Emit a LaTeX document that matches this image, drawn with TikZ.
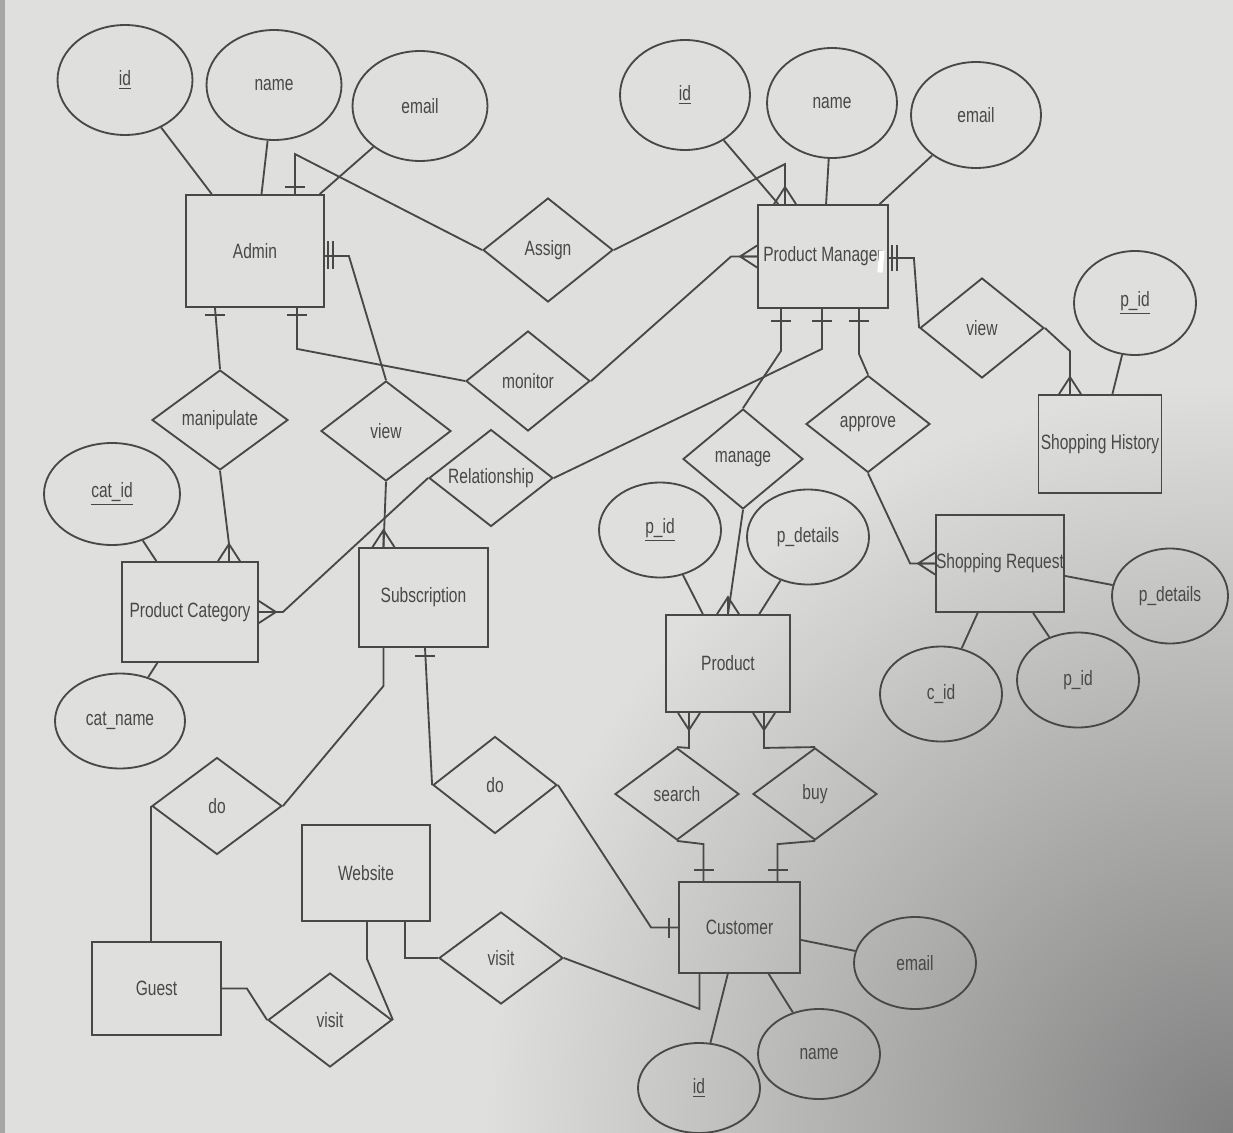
\documentclass[tikz,border=0pt]{standalone}
\usepackage{fontspec}
\setmainfont{Liberation Sans}[FakeStretch=0.75]
\usetikzlibrary{shapes.geometric,calc}
\definecolor{paper}{RGB}{223,223,221}
\definecolor{ink}{RGB}{72,72,72}
\tikzset{crow/.pic={\draw (-11,0) -- (0,-17) -- (11,0) (0,-17) -- (0,0);}}

\begin{document}
\begin{tikzpicture}[x=0.02cm,y=-0.02cm,line width=1.05pt,color=ink,
  font=\fontsize{11.8}{13}\selectfont,
  ent/.style={draw,rectangle,inner sep=0pt},
  attr/.style={draw,ellipse,inner sep=0pt,minimum width=2.44cm,minimum height=1.9cm},
  attrbig/.style={attr,minimum width=2.7cm,minimum height=2.2cm},
  rel/.style={draw,diamond,aspect=1.3,inner sep=0pt,minimum width=2.48cm,minimum height=1.94cm}]
\useasboundingbox (0,0) rectangle (1233,1132);
\begin{scope}
\clip (0,0) rectangle (1233,1132);
\fill[paper] (-10,-10) rectangle (1243,1142);
\shade[inner color=black!50,outer color=paper] (1233,1132) circle (15cm);
\fill[black!35] (-10,-10) rectangle (5,1142);
\end{scope}
% entities
\node[ent,minimum width=2.76cm,minimum height=2.24cm] (Admin) at (255,251) {Admin};
\node[ent,minimum width=2.6cm,minimum height=2.06cm] (PM) at (823,256.5) {Product Manager};
\node[ent,minimum width=2.46cm,minimum height=1.96cm] (SH) at (1100,444) {Shopping History};
\node[ent,minimum width=2.52cm,minimum height=1.94cm] (SR) at (1000,563.5) {Shopping Request};
\node[ent,minimum width=2.48cm,minimum height=1.94cm] (Product) at (728,663.5) {Product};
\node[ent,minimum width=2.42cm,minimum height=1.82cm] (Customer) at (739.5,927.5) {Customer};
\node[ent,minimum width=2.72cm,minimum height=2cm] (PC) at (190,612) {Product Category};
\node[ent,minimum width=2.58cm,minimum height=1.98cm] (Sub) at (423.5,597.5) {Subscription};
\node[ent,minimum width=2.56cm,minimum height=1.92cm] (Web) at (366,873) {Website};
\node[ent,minimum width=2.58cm,minimum height=1.86cm] (Guest) at (156.5,988.5) {Guest};
% attributes
\node[attrbig] (aId) at (125,80) {\underline{id}};
\node[attrbig] (aName) at (274,85) {name};
\node[attrbig] (aEmail) at (420,106) {email};
\node[attrbig,minimum width=2.6cm] (pId) at (685,95) {\underline{id}};
\node[attrbig,minimum width=2.6cm] (pName) at (832,103) {name};
\node[attrbig,minimum width=2.6cm,minimum height=2.12cm] (pEmail) at (976,115) {email};
\node[attr,minimum height=2.08cm] (hPid) at (1135,303) {\underline{p\_id}};
\node[attr,minimum width=2.72cm,minimum height=2.04cm] (catId) at (112,494) {\underline{cat\_id}};
\node[attr,minimum width=2.6cm] (catName) at (120,721) {cat\_name};
\node[attr] (prPid) at (660,530) {\underline{p\_id}};
\node[attr] (prDet) at (808,537) {p\_details};
\node[attr,minimum width=2.32cm] (srDet) at (1170,596) {p\_details};
\node[attr] (srCid) at (941,694) {c\_id};
\node[attr] (srPid) at (1078,680) {p\_id};
\node[attr,minimum height=1.84cm] (cuEmail) at (915,963) {email};
\node[attr,minimum height=1.8cm] (cuName) at (819,1054) {name};
\node[attr,minimum height=1.8cm] (cuId) at (699,1088) {\underline{id}};
% relationships
\node[rel,minimum width=2.6cm,minimum height=2.08cm] (rAssign) at (548,250) {Assign};
\node[rel,minimum height=2cm] (rMonitor) at (528,381) {monitor};
\node[rel,minimum width=2.72cm,minimum height=2cm] (rManip) at (220,420) {manipulate};
\node[rel,minimum width=2.6cm,minimum height=2cm] (rViewA) at (386,431) {view};
\node[rel] (rRel) at (491,478) {Relationship};
\node[rel,minimum height=2cm] (rViewP) at (982,328) {view};
\node[rel,minimum width=2.4cm,minimum height=2cm] (rManage) at (743,459) {manage};
\node[rel] (rApprove) at (868,424) {approve};
\node[rel,minimum height=1.84cm] (rSearch) at (677,794) {search};
\node[rel,minimum height=1.84cm] (rBuy) at (815,794) {buy};
\node[rel,minimum width=2.6cm] (rDoG) at (217,806) {do};
\node[rel] (rDoS) at (495,785) {do};
\node[rel,minimum height=1.88cm] (rVisitG) at (330,1020) {visit};
\node[rel,minimum height=1.84cm] (rVisitC) at (501,958) {visit};
% attribute lines
\foreach \a/\e in {aId/Admin,aName/Admin,aEmail/Admin,pId/PM,pName/PM,pEmail/PM,
  hPid/SH,catId/PC,catName/PC,prPid/Product,prDet/Product,srDet/SR,srCid/SR,srPid/SR,
  cuEmail/Customer,cuName/Customer,cuId/Customer}
  \draw (\a) -- (\e);
% relationship lines
\draw ($(Admin.north)+(40,0)$) -- ++(0,-40) -- (rAssign.west);
\draw (rAssign.east) -- ($(PM.north)+(-38,-40)$) -- ($(PM.north)+(-38,0)$);
\draw ($(Admin.east)+(0,5)$) -- ++(24,0) -- (rViewA.north);
\draw ($(Admin.south)+(-40,0)$) -- (rManip.north);
\draw ($(Admin.south)+(42,0)$) -- ++(0,41) -- (rMonitor.west);
\draw (rMonitor.east) -- ($(PM.west)+(-26,0)$) -- (PM.west);
\draw (rManip.south) -- ($(PC.north)+(39,-17)$) -- ($(PC.north)+(39,0)$);
\draw (rViewA.south) -- ($(Sub.north)+(-40,0)$);
\draw (PC.east) -- ++(24,0) -- (rRel.west);
\draw (rRel.east) -- ($(PM.south)+(-1,40)$) -- ($(PM.south)+(-1,0)$);
\draw ($(PM.south)+(-42,0)$) -- ++(0,42) -- (rManage.north);
\draw ($(PM.south)+(36,0)$) -- ++(0,45) -- (rApprove.north);
\draw ($(PM.east)+(0,1.5)$) -- ++(25,0) -- (rViewP.west);
\draw (rViewP.east) -- ($(SH.north)+(-30,-43)$) -- ($(SH.north)+(-30,0)$);
\draw (rApprove.south) -- ($(SR.west)+(-25,0)$) -- (SR.west);
\draw (rManage.south) -- (Product.north);
\draw ($(Product.south)+(-39,0)$) -- ++(0,35) -- (rSearch.north);
\draw ($(Product.south)+(36,0)$) -- ++(0,35) -- (rBuy.north);
\draw (rSearch.south) -- ($(Customer.north)+(-36,-37)$) -- ($(Customer.north)+(-36,0)$);
\draw (rBuy.south) -- ($(Customer.north)+(38,-37)$) -- ($(Customer.north)+(38,0)$);
\draw ($(Sub.south)+(-40,0)$) -- ++(0,38) -- (rDoG.east);
\draw (rDoG.west) -- (rDoG.west |- Guest.north);
\draw ($(Sub.south)+(1.5,0)$) -- (rDoS.west);
\draw (rDoS.east) -- ($(Customer.west)+(-27,0)$) -- (Customer.west);
\draw (Guest.east) -- ++(25,0) -- (rVisitG.west);
\draw ($(Web.south)+(1,0)$) -- ++(0,37) -- (rVisitG.east);
\draw ($(Web.south)+(39,0)$) -- ++(0,36) -- (rVisitC.west);
\draw (rVisitC.east) -- ($(Customer.south)+(-40,35)$) -- ($(Customer.south)+(-40,0)$);
% one marks
\draw ($(Admin.north)+(30,-7)$) -- ++(20,0);
\draw ($(Admin.east)+(3,-10)$) -- ++(0,28) ($(Admin.east)+(8,-10)$) -- ++(0,28);
\draw ($(Admin.south)+(-50,7)$) -- ++(20,0) ($(Admin.south)+(32,7)$) -- ++(20,0);
\foreach \dx in {-42,-1,36} \draw ($(PM.south)+(\dx-10,12)$) -- ++(20,0);
\draw ($(PM.east)+(3,-12)$) -- ++(0,26) ($(PM.east)+(8,-12)$) -- ++(0,26);
\draw ($(Sub.south)+(-8.5,8)$) -- ++(20,0);
\draw ($(Customer.north)+(-46,-11)$) -- ++(20,0) ($(Customer.north)+(28,-11)$) -- ++(20,0);
\draw ($(Customer.west)+(-9,-10)$) -- ++(0,20);
% many marks
\pic at ($(PM.north)+(-38,0)$) {crow};
\pic[rotate=90] at (PM.west) {crow};
\pic at ($(PC.north)+(39,0)$) {crow};
\pic at ($(Sub.north)+(-40,0)$) {crow};
\pic[rotate=-90] at (PC.east) {crow};
\pic at ($(SH.north)+(-30,0)$) {crow};
\pic[rotate=90] at (SR.west) {crow};
\pic at (Product.north) {crow};
\pic[rotate=180] at ($(Product.south)+(-39,0)$) {crow};
\pic[rotate=180] at ($(Product.south)+(36,0)$) {crow};
% glare on the photo
\draw[white,line width=3pt] ($(PM.east)+(-7,-6)$) -- ++(-2,22);
\end{tikzpicture}
\end{document}
